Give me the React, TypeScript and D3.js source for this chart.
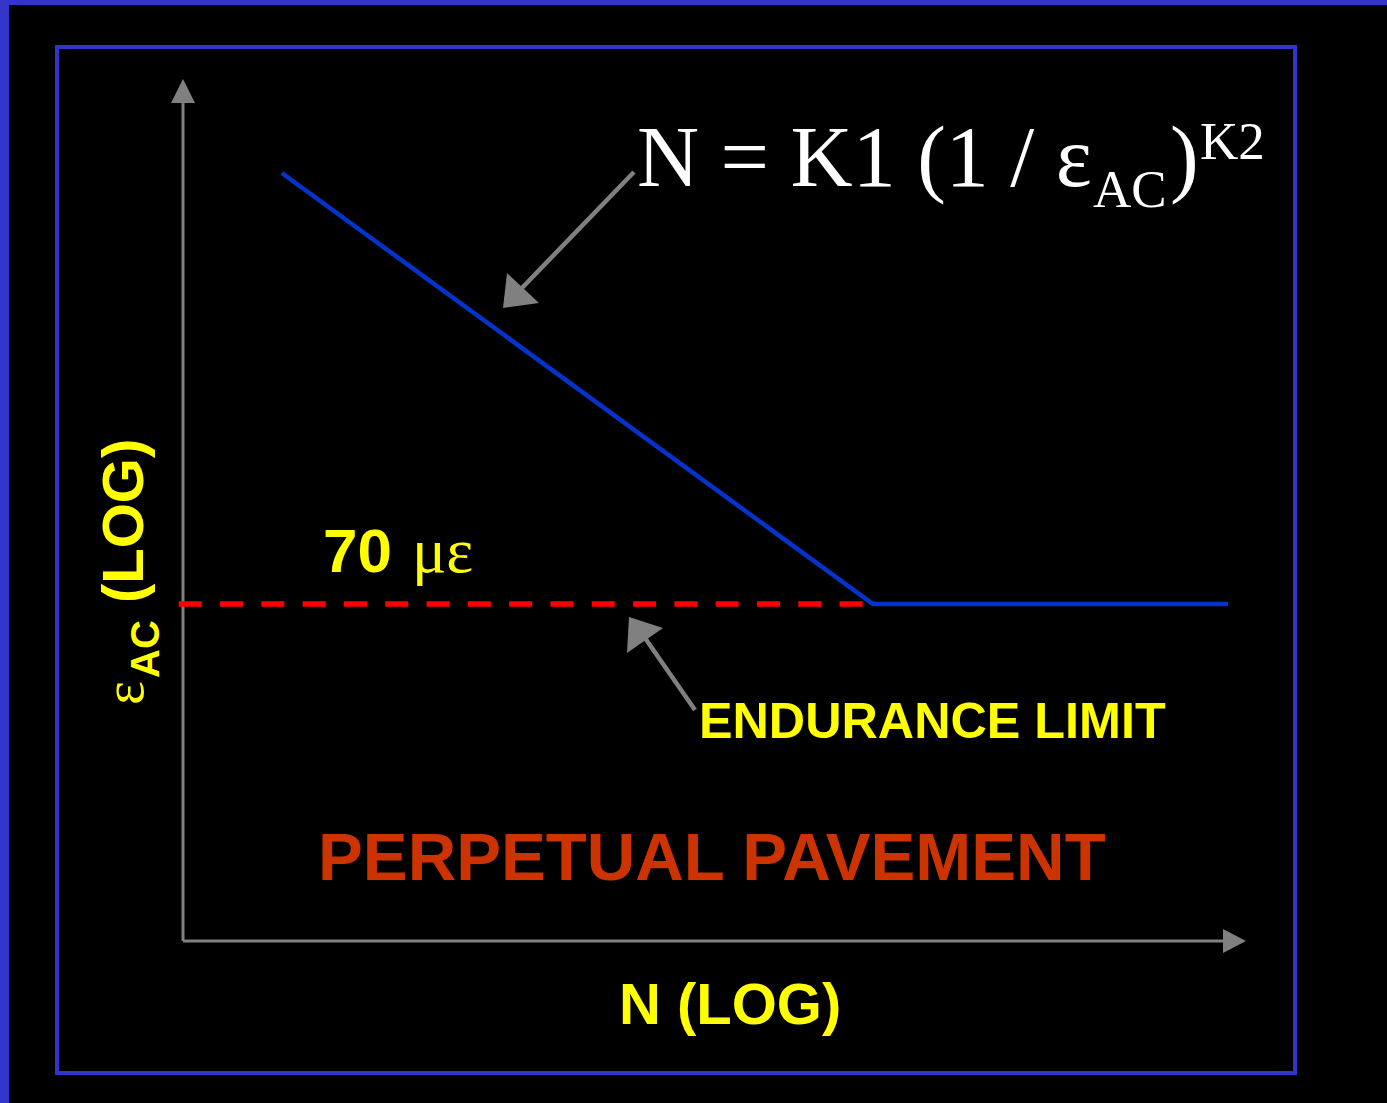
import React from "react";
import * as d3 from "d3";

// ---- data (abstract log-log units) ----
const fatigueN = [0.93, 6.49, 9.83];
const fatigueStrain = [8.91, 3.91, 3.91];
const enduranceN = [-0.04, 6.49];
const enduranceStrain = [3.91, 3.91];
const axisMax = [10, 10];

const W = 1387;
const H = 1103;
const SANS = "'Liberation Sans', Arial, Helvetica, sans-serif";
const SERIF = "'Liberation Serif', 'Times New Roman', Times, serif";
const YELLOW = "#FFFF00";
const GRAY = "#808080";
const FRAME = "#3434CC";

export default function App() {
  const x = d3.scaleLinear().domain([0, axisMax[0]]).range([183, 1246]);
  const y = d3.scaleLinear().domain([0, axisMax[1]]).range([941, 79]);

  const line = d3
    .line<[number, number]>()
    .x((d) => x(d[0]))
    .y((d) => y(d[1]));

  const fatiguePts = fatigueN.map((n, i) => [n, fatigueStrain[i]] as [number, number]);
  const endurePts = enduranceN.map((n, i) => [n, enduranceStrain[i]] as [number, number]);

  const x0 = x(0);
  const y0 = y(0);
  const xTip = x(axisMax[0]);
  const yTip = y(axisMax[1]);

  return (
    <svg
      width={W}
      height={H}
      viewBox={`0 0 ${W} ${H}`}
      style={{ position: "absolute", left: 0, top: 0, display: "block" }}
    >
      <rect x={0} y={0} width={W} height={H} fill="#000" />
      {/* outer slide frame */}
      <rect x={0} y={0} width={W} height={5} fill={FRAME} />
      <rect x={0} y={0} width={9} height={H} fill={FRAME} />
      {/* inner frame */}
      <rect x={57} y={47} width={1238} height={1026} fill="none" stroke={FRAME} strokeWidth={4} />

      {/* axes */}
      <line x1={x0} y1={y0} x2={x0} y2={yTip + 24} stroke={GRAY} strokeWidth={3} />
      <polygon
        points={`${x0 - 12},${yTip + 24} ${x0 + 12},${yTip + 24} ${x0},${yTip}`}
        fill={GRAY}
      />
      <line x1={x0} y1={y0} x2={xTip - 23} y2={y0} stroke={GRAY} strokeWidth={3} />
      <polygon
        points={`${xTip - 23},${y0 - 12} ${xTip - 23},${y0 + 12} ${xTip},${y0}`}
        fill={GRAY}
      />

      {/* endurance limit dashed line */}
      <path
        d={line(endurePts) || ""}
        fill="none"
        stroke="#FF0000"
        strokeWidth={5.5}
        strokeDasharray="23 18.3"
      />
      {/* fatigue curve */}
      <path
        d={line(fatiguePts) || ""}
        fill="none"
        stroke="#0433CC"
        strokeWidth={4.5}
        strokeLinejoin="miter"
      />

      {/* annotation arrows */}
      <line x1={634} y1={172} x2={520} y2={290} stroke={GRAY} strokeWidth={4.5} />
      <polygon points="503,308 507,273 539,303" fill={GRAY} />
      <line x1={695} y1={710} x2={645} y2={638} stroke={GRAY} strokeWidth={4.5} />
      <polygon points="629,617 663,628 627,653" fill={GRAY} />

      {/* formula */}
      <text fill="#fff" fontFamily={SERIF}>
        <tspan x={637} y={186} fontSize={86}>N = K1 (1 / ε</tspan>
        <tspan x={1093} y={207} fontSize={53}>AC</tspan>
        <tspan x={1170} y={186} fontSize={86}>)</tspan>
        <tspan x={1200} y={159} fontSize={53}>K2</tspan>
      </text>

      {/* 70 microstrain */}
      <text y={572} fill={YELLOW}>
        <tspan x={323} fontFamily={SANS} fontWeight="bold" fontSize={62}>70</tspan>
        <tspan x={412} fontFamily={SERIF} fontSize={64}>με</tspan>
      </text>

      <text x={699} y={738} fill={YELLOW} fontFamily={SANS} fontWeight="bold" fontSize={50.3}>
        ENDURANCE LIMIT
      </text>

      <text x={318} y={880} fill="#CC3300" fontFamily={SANS} fontWeight="bold" fontSize={67.2}>
        PERPETUAL PAVEMENT
      </text>

      <text x={619} y={1024} fill={YELLOW} fontFamily={SANS} fontWeight="bold" fontSize={58}>
        N (LOG)
      </text>

      {/* y-axis title */}
      <g transform="translate(143,705) rotate(-90)">
        <text fill={YELLOW}>
          <tspan x={0} y={0} fontFamily={SERIF} fontSize={57}>ε</tspan>
          <tspan x={27} y={16} fontFamily={SANS} fontWeight="bold" fontSize={40}>AC</tspan>
          <tspan x={102} y={0} fontFamily={SANS} fontWeight="bold" fontSize={58}>(LOG)</tspan>
        </text>
      </g>
    </svg>
  );
}
